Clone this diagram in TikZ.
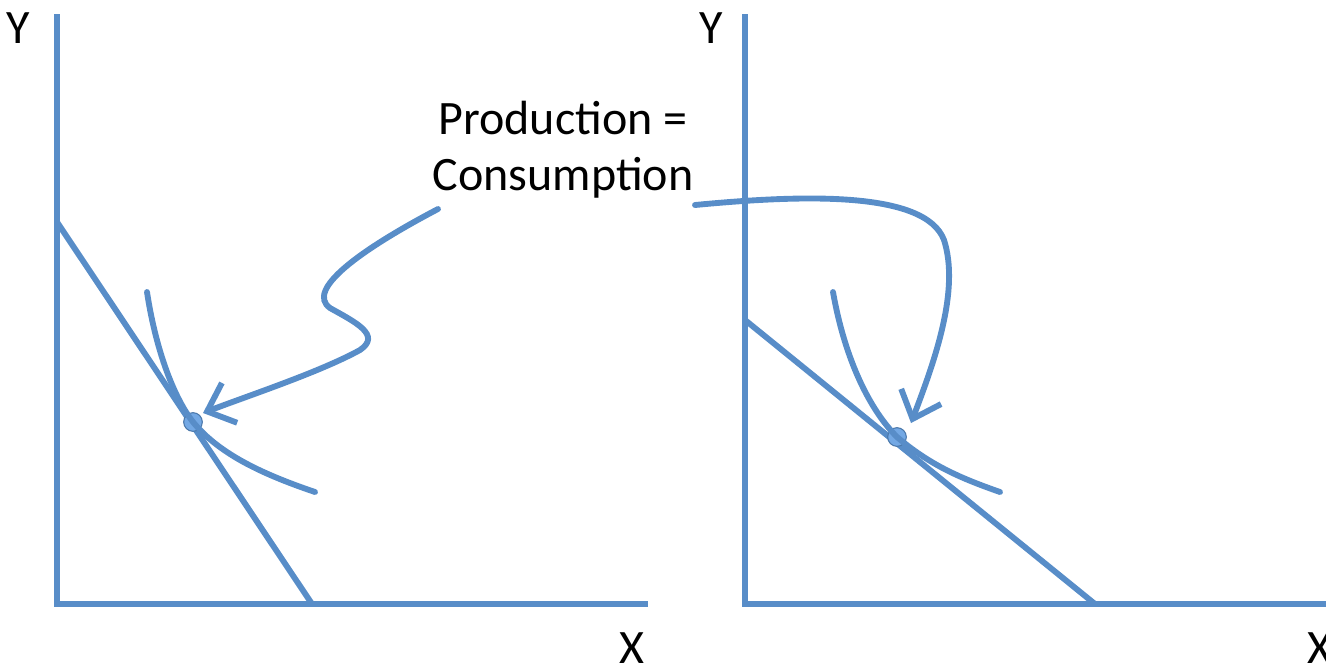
\documentclass[tikz,border=0pt]{standalone}
\usepackage{fontspec}
\setmainfont{Carlito}
\usetikzlibrary{arrows.meta}
\definecolor{ln}{RGB}{88,141,200}
\definecolor{dotc}{RGB}{115,168,228}
\begin{document}
\begin{tikzpicture}[x=0.75pt,y=-0.75pt,
  axis/.style={draw=ln,line width=4.4pt},
  curve/.style={draw=ln,line width=4.4pt,line cap=round},
  pointer/.style={draw=ln,line width=4.4pt,line cap=round,-{Straight Barb[length=18pt,width=32pt,line width=4.4pt]}},
  lbl/.style={font=\fontsize{36}{42}\selectfont,inner sep=0pt},
  dot/.style={circle,fill=dotc,draw=ln!85!black,line width=0.8pt,minimum size=14pt,inner sep=0pt}]
\useasboundingbox (0,0) rectangle (1326,669);
% left panel
\coordinate (ly0) at (57,14);
\coordinate (lo) at (57,604);
\coordinate (lx1) at (648,604);
\draw[axis] (ly0) -- (lo) -- (lx1);
\node[lbl] (ylabL) at (18,28) {Y};
\node[lbl] (xlabL) at (632,648) {X};
\coordinate (lb1) at (57,222);
\coordinate (lb2) at (312,604);
\draw[curve] (lb1) -- (lb2);
\coordinate (li1) at (147,292);
\coordinate (li2) at (315,492);
\node[dot] (dotL) at (193,422) {};
\draw[curve] (li1) .. controls (155,345) and (172,395) .. (dotL.center) .. controls (220,455) and (265,475) .. (li2);
% right panel
\coordinate (ry0) at (745,14);
\coordinate (ro) at (745,604);
\coordinate (rx1) at (1326,604);
\draw[axis] (ry0) -- (ro) -- (rx1);
\node[lbl] (ylabR) at (711,28) {Y};
\node[lbl] (xlabR) at (1320,648) {X};
\coordinate (rb1) at (745,320);
\coordinate (rb2) at (1095,604);
\draw[curve] (rb1) -- (rb2);
\coordinate (ri1) at (833,292);
\coordinate (ri2) at (1000,492);
\node[dot] (dotR) at (897,437) {};
\draw[curve] (ri1) .. controls (845,360) and (870,410) .. (dotR.center) .. controls (930,465) and (960,478) .. (ri2);
% label and pointers
\node[lbl,align=center] (txt) at (563,150) {Production =\\Consumption};
\coordinate (pL) at (438,209);
\coordinate (pR) at (695,205);
\draw[pointer] (pL) .. controls (360,250) and (305,290) .. (330,308) .. controls (355,322) and (382,335) .. (360,350) .. controls (320,372) and (250,395) .. ([shift={(10,-9)}]dotL.center);
\draw[pointer] (pR) .. controls (800,195) and (925,190) .. (944,240) .. controls (960,290) and (935,360) .. ([shift={(14,-14)}]dotR.center);
\end{tikzpicture}
\end{document}
